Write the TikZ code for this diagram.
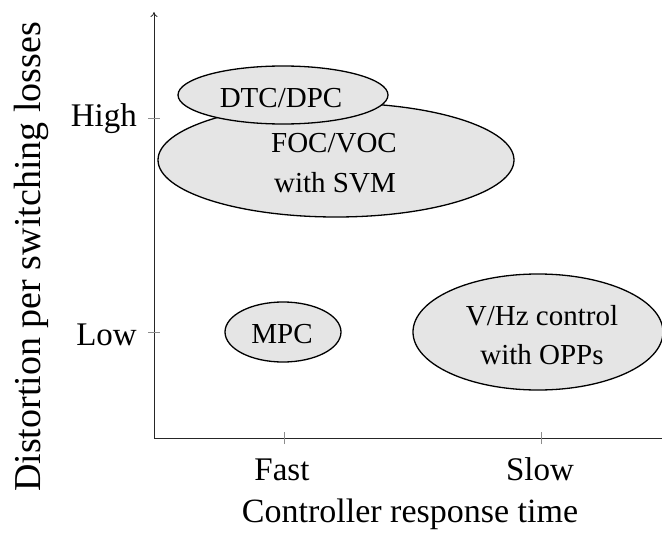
\documentclass[tikz,border=0pt]{standalone}
\usepackage{fontspec}
\setmainfont{Liberation Serif}
\usetikzlibrary{shapes.geometric,arrows.meta}
\tikzset{
  blob/.style={ellipse, draw=black, line width=1.3pt, fill=black!10, inner sep=0pt},
  blobtext/.style={inner sep=0pt, anchor=base, font=\fontsize{29}{40}\selectfont},
  axisline/.style={line width=0.8pt, draw=black!85},
  tickmark/.style={line width=0.6pt, draw=black!45},
  ticklabel/.style={font=\fontsize{33}{36}\selectfont, inner sep=0pt},
}
\begin{document}
\begin{tikzpicture}[x=1pt,y=-1pt]
\useasboundingbox (0,0) rectangle (662,535);
% axes
\coordinate (O) at (154,438);
\coordinate (Ytop) at (154,12);
\coordinate (Xend) at (662,438);
\draw[axisline,-{To[length=5pt,width=7pt]}] (O) -- (Ytop);
\draw[axisline] (O) -- (Xend);
% ticks
\coordinate (th) at (154,118);
\coordinate (tl) at (154,332);
\coordinate (tf) at (284,438);
\coordinate (ts) at (541,438);
\draw[tickmark] ([xshift=-6]th) -- ([xshift=6]th);
\draw[tickmark] ([xshift=-6]tl) -- ([xshift=6]tl);
\draw[tickmark] ([yshift=-6]tf) -- ([yshift=6]tf);
\draw[tickmark] ([yshift=-6]ts) -- ([yshift=6]ts);
% tick labels
\node[ticklabel, anchor=base east] (high) at (137,126) {High};
\node[ticklabel, anchor=base east] (low) at (137,345) {Low};
\node[ticklabel, anchor=base] (fast) at (282,480) {Fast};
\node[ticklabel, anchor=base] (slow) at (540,480) {Slow};
% axis labels
\node[inner sep=0pt, anchor=base, font=\fontsize{34}{38}\selectfont] (xlab) at (410,522) {Controller response time};
\node[inner sep=0pt, anchor=base, rotate=90, font=\fontsize{38}{40}\selectfont] (ylab) at (40,257) {Distortion per switching losses};
% ellipses
\node[blob, minimum width=356pt, minimum height=114pt] (foc) at (336,160) {};
\node[blob, minimum width=210pt, minimum height=58pt] (dtc) at (283,95) {};
\node[blob, minimum width=116pt, minimum height=60pt] (mpc) at (283,332) {};
\node[blob, minimum width=250pt, minimum height=116pt] (vhz) at (538,332) {};
% ellipse texts
\node[blobtext] (focA) at (334,152) {FOC/VOC};
\node[blobtext] (focB) at (335,192) {with SVM};
\node[blobtext] (dtcT) at (281,107) {DTC/DPC};
\node[blobtext] (mpcT) at (282,343) {MPC};
\node[blobtext] (vhzA) at (542,325) {V/Hz control};
\node[blobtext] (vhzB) at (542,364) {with OPPs};
\end{tikzpicture}
\end{document}
